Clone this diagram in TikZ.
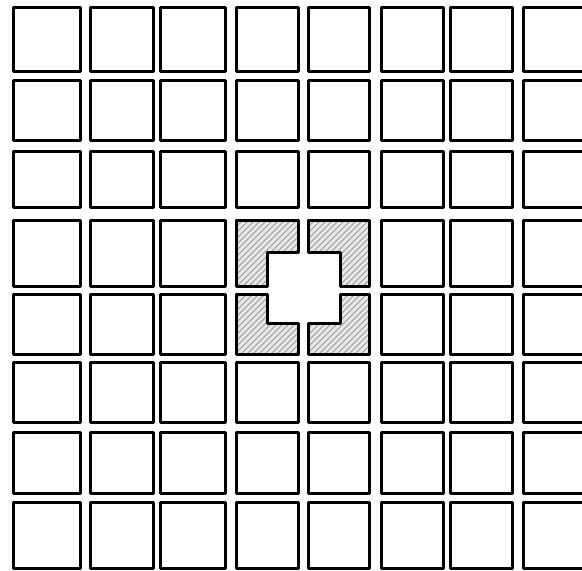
\documentclass[tikz,border=0pt]{standalone}
\usetikzlibrary{patterns}

\tikzset{
    cell/.style={draw, line width=1.5pt, line join=round},
    hatched/.style={cell, preaction={fill=gray!18}, preaction={pattern=north east lines, pattern color=gray!80}},
}

\begin{document}
\begin{tikzpicture}[x=0.5pt, y=-0.5pt]
    \useasboundingbox (0,0) rectangle (582,571);
    \clip (0,0) rectangle (582,571);

    % the grid of squares
    \foreach \l/\r in {13/80, 90/153, 160/225, 236/298, 308/369, 381/443, 450/512, 523/588}
        \foreach \t/\b in {8/72, 81/141, 152/208, 221/286, 294/354, 362/422, 432/493, 502/568}
            \draw[cell] (\l,\t) rectangle (\r,\b);

    % the open square in the middle
    \fill[white] (267,253) rectangle (340,323);

    % the four hatched corners round it
    \draw[hatched] (236,221) -- (298,221) -- (298,253) -- (267,253) -- (267,286) -- (236,286) -- cycle;
    \draw[hatched] (308,221) -- (369,221) -- (369,286) -- (340,286) -- (340,253) -- (308,253) -- cycle;
    \draw[hatched] (236,294) -- (267,294) -- (267,323) -- (298,323) -- (298,354) -- (236,354) -- cycle;
    \draw[hatched] (340,294) -- (369,294) -- (369,354) -- (308,354) -- (308,323) -- (340,323) -- cycle;
\end{tikzpicture}
\end{document}
